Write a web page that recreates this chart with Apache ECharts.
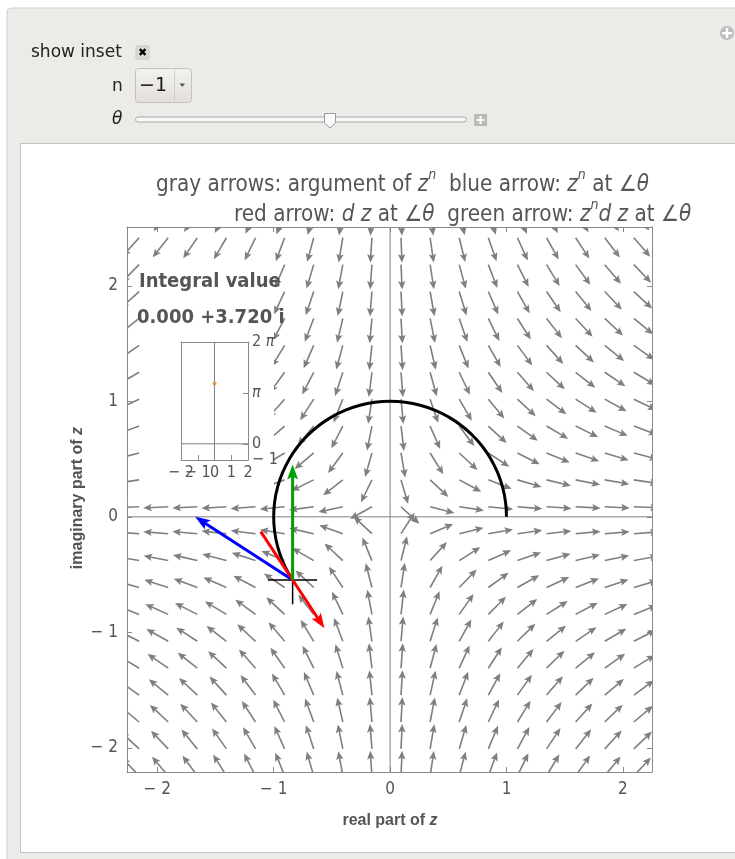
<!DOCTYPE html>
<html><head><meta charset="utf-8">
<script src="https://cdn.jsdelivr.net/npm/echarts@6/dist/echarts.min.js"></script>
<style>html,body{margin:0;padding:0;background:#fff;overflow:hidden}#c{width:735px;height:859px}</style>
</head><body><div id="c"></div>
<script>
// ---- data ----
const n = -1;                      // exponent
const theta = 3.72;                // angle on the path
const integralText = "0.000 +3.720 i";
const xTicks = [-2, -1, 0, 1, 2];
const yTicks = [-2, -1, 0, 1, 2];
const insetXTicks = [-2, -1, 0, 1, 2];
const insetYTicks = [-1, 0, Math.PI, 2 * Math.PI];
const insetPoint = [0, 3.72];
// grid points of the gray arrow field
const colX = [-2.156,-1.906,-1.656,-1.406,-1.156,-0.906,-0.656,-0.406,-0.156,0.094,0.344,0.594,0.844,1.094,1.344,1.594,1.844,2.094];
const rowY = [-2.243,-2.01,-1.777,-1.544,-1.311,-1.078,-0.845,-0.612,-0.379,-0.146,0.087,0.32,0.553,0.786,1.019,1.252,1.485,1.718,1.951,2.184,2.417,2.65];
// path of integration
const arcX = [1,0.9914,0.9659,0.9239,0.866,0.7934,0.7071,0.6088,0.5,0.3827,0.2588,0.1305,0,-0.1305,-0.2588,-0.3827,-0.5,-0.6088,-0.7071,-0.7934,-0.866,-0.9239,-0.9659,-0.9914,-1,-0.9914,-0.9659,-0.9239,-0.866,-0.8372];
const arcY = [0,0.1305,0.2588,0.3827,0.5,0.6088,0.7071,0.7934,0.866,0.9239,0.9659,0.9914,1,0.9914,0.9659,0.9239,0.866,0.7934,0.7071,0.6088,0.5,0.3827,0.2588,0.1305,0,-0.1305,-0.2588,-0.3827,-0.5,-0.547];
const pointP = [-0.8372, -0.547];
const blueArrow = [[-0.8372, -0.547], [-1.6744, 0.0]];
const redArrow = [[-1.1107, -0.1284], [-0.5637, -0.9656]];
const greenArrow = [[-0.8372, -0.547], [-0.8372, 0.453]];
const crossHalf = 0.21;

// ---- styles ----
const NARROW = "'Liberation Sans Narrow','DejaVu Sans Condensed','Liberation Sans',sans-serif";
const SANS = "'Liberation Sans',Arial,sans-serif";
const UI = "'DejaVu Sans',sans-serif";
const TXT = '#555';
const FRAME = '#8a8a8a';
const XMIN = -2.26, XMAX = 2.25, YMIN = -2.21, YMAX = 2.51;

function fmtMinus(v){ return v < 0 ? '\u2212 ' + Math.abs(v) : String(v); }

const fieldData = [];
rowY.forEach(y => colX.forEach(x => {
  fieldData.push([x, y, n * Math.atan2(y, x)]);
}));

function arrowShape(p0, p1, headLen, headHalf, color, lw){
  const dx = p1[0]-p0[0], dy = p1[1]-p0[1];
  const L = Math.hypot(dx, dy) || 1;
  const ux = dx/L, uy = dy/L;
  const bx = p1[0]-ux*headLen, by = p1[1]-uy*headLen;
  return [
    {type:'line', shape:{x1:p0[0], y1:p0[1], x2:p1[0]-ux*headLen*0.6, y2:p1[1]-uy*headLen*0.6}, style:{stroke:color, lineWidth:lw}},
    {type:'polygon', shape:{points:[[p1[0],p1[1]],[bx-uy*headHalf, by+ux*headHalf],[p1[0]-ux*headLen*0.8, p1[1]-uy*headLen*0.8],[bx+uy*headHalf, by-ux*headHalf]]}, style:{fill:color}}
  ];
}

const chart = echarts.init(document.getElementById('c'), null, {renderer:'canvas'});

function frameAxis(grid, pos, min, max, ticks, show, extra){
  return Object.assign({
    gridIndex: grid, type:'value', position: pos, min: min, max: max,
    axisLine:{show:true, onZero:false, lineStyle:{color:FRAME, width:1}},
    axisTick:{show:true, inside:true, length:5, customValues:ticks, lineStyle:{color:FRAME}},
    axisLabel:{show:show, customValues:ticks, formatter:fmtMinus, color:TXT, fontFamily:NARROW, fontSize:17, margin:9, showMinLabel:true, showMaxLabel:true},
    splitLine:{show:false}
  }, extra || {});
}

function richBase(size){
  return {
    a:{fontFamily:NARROW, fontSize:size, fill:TXT, lineHeight:28, verticalAlign:'bottom'},
    i:{fontFamily:NARROW, fontSize:size, fontStyle:'italic', fill:TXT, lineHeight:28, verticalAlign:'bottom'},
    s:{fontFamily:NARROW, fontSize:Math.round(size*0.65), fontStyle:'italic', fill:TXT, lineHeight:28, verticalAlign:'top'}
  };
}

const option = {
  animation:false,
  grid:[
    {left:127, top:227, width:525, height:545},
    {left:181, top:342, width:67, height:118, z:60}
  ],
  xAxis:[
    frameAxis(0,'bottom',XMIN,XMAX,xTicks,true),
    frameAxis(0,'top',XMIN,XMAX,xTicks,false),
    frameAxis(1,'bottom',-2,2,insetXTicks,false,{z:60}),
    frameAxis(1,'top',-2,2,insetXTicks,false,{z:60, axisTick:{show:false}})
  ],
  yAxis:[
    frameAxis(0,'left',YMIN,YMAX,yTicks,true),
    frameAxis(0,'right',YMIN,YMAX,yTicks,false),
    frameAxis(1,'right',-1,2*Math.PI,insetYTicks,true,{z:60, axisLabel:{show:true, customValues:insetYTicks, color:TXT, fontFamily:NARROW, fontSize:16, margin:4, showMinLabel:true, showMaxLabel:true,
      formatter:function(v){ if (Math.abs(v-Math.PI)<1e-6) return '{p|\u03c0}'; if (Math.abs(v-2*Math.PI)<1e-6) return '2 {p|\u03c0}'; return fmtMinus(v); },
      rich:{p:{fontStyle:'italic', fontFamily:NARROW, fontSize:16, color:TXT}}}}),
    frameAxis(1,'left',-1,2*Math.PI,insetYTicks,false,{z:60, axisTick:{show:false}})
  ],
  series:[
    { // gray arrow field: argument of z^n
      type:'custom', xAxisIndex:0, yAxisIndex:0, clip:true, silent:true, z:2,
      data: fieldData,
      renderItem:function(params, api){
        const p0 = api.coord([api.value(0), api.value(1)]);
        const a = api.value(2);
        const L = 25;
        const p1 = [p0[0] + L*Math.cos(a), p0[1] - L*Math.sin(a)];
        return {type:'group', children: arrowShape(p0, p1, 8.5, 3.7, '#7f7f7f', 1.6)};
      }
    },
    {type:'line', xAxisIndex:0, yAxisIndex:0, data:[[0,YMIN],[0,YMAX]], symbol:'none', silent:true, lineStyle:{color:'#808080', width:1}, z:3},
    {type:'line', xAxisIndex:0, yAxisIndex:0, data:[[XMIN,0],[XMAX,0]], symbol:'none', silent:true, lineStyle:{color:'#808080', width:1}, z:3},
    { // integration path
      type:'line', xAxisIndex:0, yAxisIndex:0, smooth:true, symbol:'none', silent:true, z:5,
      data: arcX.map((x,i)=>[x, arcY[i]]),
      lineStyle:{color:'#000', width:3}
    },
    {type:'line', xAxisIndex:0, yAxisIndex:0, symbol:'none', silent:true, z:6, data:[[pointP[0]-crossHalf,pointP[1]],[pointP[0]+crossHalf,pointP[1]]], lineStyle:{color:'#000', width:1.5}},
    {type:'line', xAxisIndex:0, yAxisIndex:0, symbol:'none', silent:true, z:6, data:[[pointP[0],pointP[1]-crossHalf],[pointP[0],pointP[1]+crossHalf]], lineStyle:{color:'#000', width:1.5}},
    { // blue, red, green arrows
      type:'custom', xAxisIndex:0, yAxisIndex:0, silent:true, z:8,
      data:[
        [blueArrow[0][0], blueArrow[0][1], blueArrow[1][0], blueArrow[1][1], 0],
        [redArrow[0][0], redArrow[0][1], redArrow[1][0], redArrow[1][1], 1],
        [greenArrow[0][0], greenArrow[0][1], greenArrow[1][0], greenArrow[1][1], 2]
      ],
      renderItem:function(params, api){
        const cols = ['#0000ff', '#ff0000', '#00a000'];
        const p0 = api.coord([api.value(0), api.value(1)]);
        const p1 = api.coord([api.value(2), api.value(3)]);
        return {type:'group', children: arrowShape(p0, p1, 15, 5.5, cols[api.value(4)], 3)};
      }
    },
    // inset
    {type:'line', xAxisIndex:2, yAxisIndex:2, data:[[0,-1],[0,2*Math.PI]], symbol:'none', silent:true, lineStyle:{color:'#808080', width:1}, z:61},
    {type:'line', xAxisIndex:2, yAxisIndex:2, data:[[-2,0],[2,0]], symbol:'none', silent:true, lineStyle:{color:'#808080', width:1}, z:61},
    {type:'scatter', xAxisIndex:2, yAxisIndex:2, data:[insetPoint], symbolSize:4, itemStyle:{color:'#e0892a'}, silent:true, z:62},
    { // inset x tick labels (drawn overlapping, as in the reference)
      type:'custom', xAxisIndex:2, yAxisIndex:2, clip:false, silent:true, z:62,
      data: insetXTicks.map(v => [v, -1]),
      renderItem:function(params, api){
        const c = api.coord([api.value(0), api.value(1)]);
        return {type:'text', x:c[0], y:c[1] + 5, style:{text:fmtMinus(api.value(0)), fill:TXT, font:'16px ' + NARROW, align:'center', verticalAlign:'top'}};
      }
    }
  ],
  graphic:[
    // outer panel
    {type:'rect', shape:{x:7, y:8, width:760, height:880, r:4}, style:{fill:'#edebe7', stroke:'#cfcfcf', lineWidth:1}, z:-20, silent:true},
    {type:'rect', shape:{x:20.5, y:143.5, width:760, height:709}, style:{fill:'#ffffff', stroke:'#c2c2c2', lineWidth:1}, z:-19, silent:true},
    // top-right icon
    {type:'circle', shape:{cx:727, cy:33, r:7}, style:{fill:'#bdbdbd'}, z:-10},
    {type:'rect', shape:{x:722, y:32, width:10, height:2.4}, style:{fill:'#fff'}, z:-9},
    {type:'rect', shape:{x:725.8, y:28, width:2.4, height:10}, style:{fill:'#fff'}, z:-9},
    // show inset checkbox
    {type:'text', x:31, y:52.5, style:{text:'show inset', font:'17px ' + UI, fill:'#222', verticalAlign:'middle'}, z:-10},
    {type:'rect', shape:{x:136, y:46, width:13, height:13, r:1}, style:{fill:'#dedbd7', stroke:'#c4c4c4'}, z:-10},
    {type:'text', x:142.5, y:52.8, style:{text:'\u2716', font:'11px ' + UI, fill:'#000', align:'center', verticalAlign:'middle'}, z:-9},
    // n popup menu
    {type:'text', x:112, y:87, style:{text:'n', font:'17px ' + UI, fill:'#222', verticalAlign:'middle'}, z:-10},
    {type:'rect', shape:{x:135.5, y:68.5, width:56, height:34, r:3}, style:{fill:new echarts.graphic.LinearGradient(0,0,0,1,[{offset:0,color:'#f4f2ef'},{offset:1,color:'#e2dfdb'}]), stroke:'#c3c3c3'}, z:-10},
    {type:'line', shape:{x1:174.5, y1:69, x2:174.5, y2:102}, style:{stroke:'#cfcfcf'}, z:-9},
    {type:'text', x:139, y:86.5, style:{text:'\u22121', font:'19px ' + UI, fill:'#1a1a1a', verticalAlign:'middle'}, z:-9},
    {type:'polygon', shape:{points:[[179.5,83.5],[185,83.5],[182.25,87]]}, style:{fill:'#555'}, z:-9},
    // theta slider
    {type:'text', x:112, y:120, style:{text:'\u03b8', font:'italic 17px ' + UI, fill:'#222', verticalAlign:'middle'}, z:-10},
    {type:'rect', shape:{x:135.5, y:117, width:331, height:5, r:2.5}, style:{fill:'#f7f7f7', stroke:'#a9a9a9'}, z:-10},
    {type:'polygon', shape:{points:[[324.5,113.5],[335.5,113.5],[335.5,123],[330,128],[324.5,123]]}, style:{fill:'#fbfbfb', stroke:'#9a9a9a'}, z:-9},
    {type:'rect', shape:{x:474, y:114, width:13, height:12}, style:{fill:'#b9b9b9'}, z:-10},
    {type:'rect', shape:{x:476.5, y:119, width:8, height:2}, style:{fill:'#fff'}, z:-9},
    {type:'rect', shape:{x:479.5, y:116, width:2, height:8}, style:{fill:'#fff'}, z:-9},
    // plot label
    {type:'text', x:156, y:182, z:10, style:{
      text:'{a|gray arrows: argument of }{i|z}{s|n}{a|  blue arrow: }{i|z}{s|n}{a| at \u2220}{i|\u03b8}',
      verticalAlign:'middle', rich:richBase(22.3)}},
    {type:'text', x:234, y:212, z:10, style:{
      text:'{a|red arrow: }{i|d z}{a| at \u2220}{i|\u03b8}{a|  green arrow: }{i|z}{s|n}{i|d z}{a| at \u2220}{i|\u03b8}',
      verticalAlign:'middle', rich:richBase(22.3)}},
    // axis titles
    {type:'text', x:390, y:821, z:10, style:{text:'{b|real part of }{bi|z}', align:'center', verticalAlign:'middle',
      rich:{b:{fontFamily:SANS, fontWeight:'bold', fontSize:16, fill:TXT}, bi:{fontFamily:SANS, fontWeight:'bold', fontStyle:'italic', fontSize:16, fill:TXT}}}},
    {type:'text', x:78, y:498, rotation:Math.PI/2, z:10, style:{text:'{b|imaginary part of }{bi|z}', align:'center', verticalAlign:'middle',
      rich:{b:{fontFamily:SANS, fontWeight:'bold', fontSize:16, fill:TXT}, bi:{fontFamily:SANS, fontWeight:'bold', fontStyle:'italic', fontSize:16, fill:TXT}}}},
    // inset background and text
    {type:'rect', shape:{x:144, y:264, width:130, height:228}, style:{fill:'#ffffff'}, z:50, silent:true},
    {type:'text', x:139, y:282, z:55, style:{text:'Integral value', font:'bold 20px ' + NARROW, fill:TXT, verticalAlign:'middle', width:145, overflow:'truncate', ellipsis:''}},
    {type:'text', x:137, y:318, z:55, style:{text:integralText, font:'bold 20px ' + NARROW, fill:TXT, verticalAlign:'middle'}}
  ]
};
chart.setOption(option);
</script></body></html>
